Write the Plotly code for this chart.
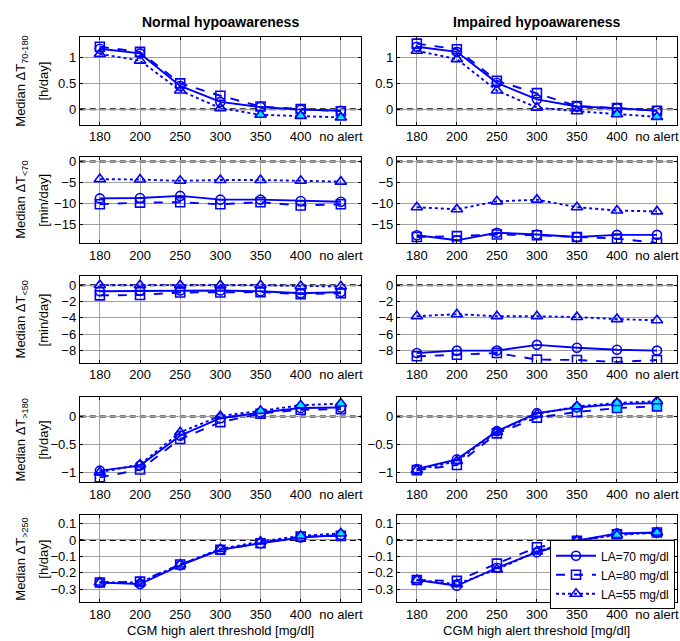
import plotly.graph_objects as go

categories = ["180", "200", "250", "300", "350", "400", "no alert"]

# Row 1: Median dT 70-180 [h/day]
n_tir_la70 = [1.17, 1.08, 0.45, 0.14, 0.04, -0.01, -0.03]
n_tir_la80 = [1.21, 1.11, 0.50, 0.26, 0.05, 0.00, -0.04]
n_tir_la55 = [1.07, 0.94, 0.36, 0.02, -0.11, -0.13, -0.16]
i_tir_la70 = [1.21, 1.11, 0.51, 0.19, 0.05, 0.02, -0.03]
i_tir_la80 = [1.27, 1.16, 0.55, 0.31, 0.06, 0.02, -0.03]
i_tir_la55 = [1.13, 0.97, 0.36, 0.03, -0.04, -0.10, -0.15]

# Row 2: Median dT <70 [min/day]
n_t70_la70 = [-8.8, -8.7, -8.2, -9.1, -9.1, -9.4, -9.6]
n_t70_la80 = [-10.2, -9.8, -9.7, -10.2, -9.7, -10.5, -10.2]
n_t70_la55 = [-4.2, -4.3, -4.6, -4.4, -4.4, -4.6, -4.8]
i_t70_la70 = [-17.6, -18.8, -17.0, -17.4, -18.0, -17.5, -17.5]
i_t70_la80 = [-18.0, -17.8, -17.4, -17.6, -18.0, -18.4, -19.4]
i_t70_la55 = [-10.9, -11.4, -9.5, -9.1, -10.9, -11.7, -11.9]

# Row 3: Median dT <50 [min/day]
n_t50_la70 = [-0.75, -0.7, -0.65, -0.65, -0.75, -1.0, -0.85]
n_t50_la80 = [-1.25, -1.2, -0.9, -0.9, -0.85, -1.1, -1.0]
n_t50_la55 = [0.0, 0.0, 0.0, 0.0, 0.0, -0.1, -0.15]
i_t50_la70 = [-8.3, -8.0, -8.0, -7.3, -7.65, -7.9, -8.0]
i_t50_la80 = [-8.7, -8.5, -8.3, -9.1, -9.15, -9.4, -9.15]
i_t50_la55 = [-3.8, -3.55, -3.8, -3.8, -3.9, -4.15, -4.3]

# Row 4: Median dT >180 [h/day]
n_t180_la70 = [-0.96, -0.87, -0.34, -0.03, 0.07, 0.15, 0.16]
n_t180_la80 = [-1.08, -0.94, -0.40, -0.10, 0.05, 0.12, 0.13]
n_t180_la55 = [-0.99, -0.85, -0.28, 0.01, 0.10, 0.20, 0.23]
i_t180_la70 = [-0.93, -0.76, -0.26, 0.06, 0.16, 0.22, 0.24]
i_t180_la80 = [-0.95, -0.86, -0.30, -0.02, 0.08, 0.15, 0.18]
i_t180_la55 = [-0.95, -0.79, -0.27, 0.04, 0.18, 0.24, 0.27]

# Row 5: Median dT >250 [h/day]
n_t250_la70 = [-0.26, -0.27, -0.155, -0.06, -0.02, 0.015, 0.03]
n_t250_la80 = [-0.26, -0.255, -0.15, -0.06, -0.02, 0.02, 0.025]
n_t250_la55 = [-0.26, -0.26, -0.15, -0.055, -0.01, 0.025, 0.04]
i_t250_la70 = [-0.245, -0.28, -0.17, -0.075, -0.005, 0.04, 0.045]
i_t250_la80 = [-0.245, -0.25, -0.145, -0.045, -0.005, 0.035, 0.045]
i_t250_la55 = [-0.245, -0.27, -0.18, -0.07, -0.005, 0.03, 0.045]

# Highlighted (filled) points
none_hl = [0, 0, 0, 0, 0, 0, 0]
hl_last3 = [0, 0, 0, 0, 1, 1, 1]
hl_last2 = [0, 0, 0, 0, 0, 1, 1]

series_names = ["LA=70 mg/dl", "LA=80 mg/dl", "LA=55 mg/dl"]
series_symbols = ["circle", "square", "triangle-up"]
series_dashes = ["solid", "dash", "dot"]

col_titles = ["Normal hypoawareness", "Impaired hypoawareness"]
row_titles = [
    "Median \u0394T<sub>70-180</sub>",
    "Median \u0394T<sub>&lt;70</sub>",
    "Median \u0394T<sub>&lt;50</sub>",
    "Median \u0394T<sub>&gt;180</sub>",
    "Median \u0394T<sub>&gt;250</sub>",
]
row_units = ["[h/day]", "[min/day]", "[min/day]", "[h/day]", "[h/day]"]
row_ranges = [[-0.3, 1.4], [-19.5, 1.2], [-9.5, 1.1], [-1.17, 0.35], [-0.38, 0.15]]
row_ticks = [
    [0, 0.5, 1],
    [-15, -10, -5, 0],
    [-8, -6, -4, -2, 0],
    [-1, -0.5, 0],
    [-0.3, -0.2, -0.1, 0, 0.1],
]
x_title = "CGM high alert threshold [mg/dl]"

panels = [
    [([n_tir_la70, n_tir_la80, n_tir_la55], [none_hl, none_hl, hl_last3]),
     ([i_tir_la70, i_tir_la80, i_tir_la55], [none_hl, none_hl, hl_last2])],
    [([n_t70_la70, n_t70_la80, n_t70_la55], [none_hl, none_hl, none_hl]),
     ([i_t70_la70, i_t70_la80, i_t70_la55], [none_hl, none_hl, none_hl])],
    [([n_t50_la70, n_t50_la80, n_t50_la55], [none_hl, none_hl, none_hl]),
     ([i_t50_la70, i_t50_la80, i_t50_la55], [none_hl, none_hl, none_hl])],
    [([n_t180_la70, n_t180_la80, n_t180_la55], [none_hl, none_hl, hl_last3]),
     ([i_t180_la70, i_t180_la80, i_t180_la55], [hl_last3, hl_last2, hl_last3])],
    [([n_t250_la70, n_t250_la80, n_t250_la55], [none_hl, none_hl, hl_last2]),
     ([i_t250_la70, i_t250_la80, i_t250_la55], [hl_last2, none_hl, hl_last2])],
]

W, H = 680, 641
col_px = [(80, 362), (398, 679)]
row_px = [(35, 123), (155, 242), (275, 362), (396, 482), (515, 602)]


def fx(px):
    return px / W


def fy(py):
    return 1 - py / H


BLUE = "#0000FF"
CYAN = "#00E8FF"
FONT = "Liberation Sans, Arial, sans-serif"
GRID = "#A0A0A0"

fig = go.Figure()
layout = {}
annotations = []
shapes = []

for r in range(5):
    for c in range(2):
        idx = r * 2 + c + 1
        xa = "x" if idx == 1 else f"x{idx}"
        ya = "y" if idx == 1 else f"y{idx}"
        values, hls = panels[r][c]
        for s in range(3):
            fills = [CYAN if h else "rgba(0,0,0,0)" for h in hls[s]]
            fig.add_trace(go.Scatter(
                x=categories, y=values[s], xaxis=xa, yaxis=ya,
                mode="lines+markers",
                name=series_names[s],
                showlegend=(r == 4 and c == 1),
                line=dict(color=BLUE, width=1.9, dash=series_dashes[s]),
                marker=dict(symbol=series_symbols[s], size=9 if s < 2 else 10,
                            color=fills, line=dict(color=BLUE, width=1.6)),
            ))
        x0, x1 = col_px[c]
        y0, y1 = row_px[r]
        layout[f"xaxis{'' if idx == 1 else idx}"] = dict(
            domain=[fx(x0), fx(x1)], anchor=ya, type="category",
            range=[-0.5, 6.5], showline=True, mirror="ticks", linecolor="black",
            linewidth=1, ticks="inside", ticklen=3, tickcolor="black",
            showgrid=True, gridcolor=GRID, gridwidth=1,
            tickfont=dict(size=13, color="black", family=FONT), zeroline=False,
        )
        layout[f"yaxis{'' if idx == 1 else idx}"] = dict(
            domain=[fy(y1), fy(y0)], anchor=xa,
            range=row_ranges[r], tickvals=row_ticks[r],
            showline=True, mirror="ticks", linecolor="black", linewidth=1,
            ticks="inside", ticklen=3, tickcolor="black",
            showgrid=True, gridcolor=GRID, gridwidth=1, zeroline=False,
            tickfont=dict(size=13, color="black", family=FONT),
        )
        shapes.append(dict(type="line", xref=f"{xa} domain", yref=ya,
                           x0=0, x1=1, y0=0, y1=0,
                           line=dict(color="black", width=2, dash="6px,4px"),
                           layer="below"))
    yc = (row_px[r][0] + row_px[r][1]) / 2
    annotations.append(dict(
        text=row_titles[r], textangle=-90, xref="paper", yref="paper",
        x=fx(22), y=fy(yc), xanchor="center", yanchor="middle", showarrow=False,
        font=dict(size=13, color="black", family=FONT),
    ))
    annotations.append(dict(
        text=row_units[r], textangle=-90, xref="paper", yref="paper",
        x=fx(44), y=fy(yc), xanchor="center", yanchor="middle", showarrow=False,
        font=dict(size=13, color="black", family=FONT),
    ))

for c in range(2):
    annotations.append(dict(
        text=f"<b>{col_titles[c]}</b>", xref="paper", yref="paper",
        x=fx((col_px[c][0] + col_px[c][1]) / 2), y=fy(20),
        xanchor="center", yanchor="middle", showarrow=False,
        font=dict(size=14, color="black", family=FONT),
    ))
    annotations.append(dict(
        text=x_title, xref="paper", yref="paper",
        x=fx((col_px[c][0] + col_px[c][1]) / 2), y=fy(630),
        xanchor="center", yanchor="middle", showarrow=False,
        font=dict(size=13, color="black", family=FONT),
    ))

fig.update_layout(
    width=W, height=H,
    margin=dict(l=0, r=0, t=0, b=0),
    paper_bgcolor="white", plot_bgcolor="white",
    font=dict(family=FONT, color="black"),
    annotations=annotations, shapes=shapes,
    legend=dict(x=fx(677), y=fy(540), xanchor="right", yanchor="top",
                bgcolor="white", bordercolor="black", borderwidth=1,
                font=dict(size=12, color="black", family=FONT),
                tracegroupgap=0, itemwidth=40),
    **layout,
)

fig.write_html(
    "out.html",
    config={"displayModeBar": False},
    post_script="document.body.style.margin='0';document.body.style.overflow='hidden';",
)
